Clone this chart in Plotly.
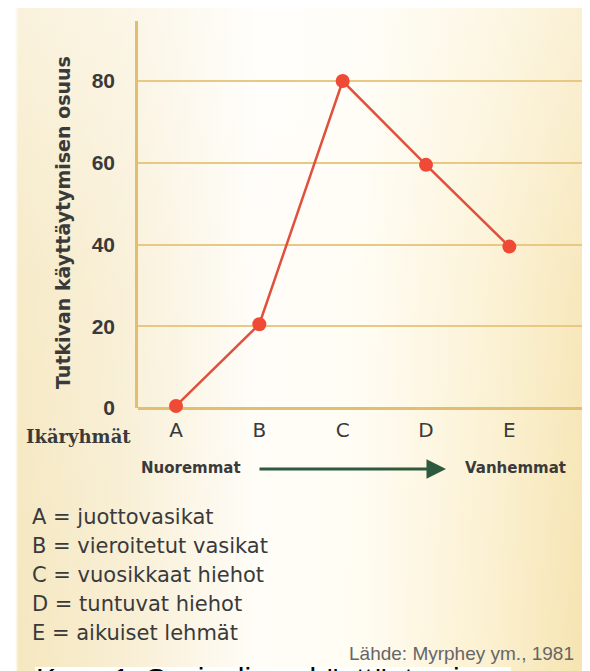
import plotly.graph_objects as go
import urllib.parse

# ---- data ----
categories = ["A", "B", "C", "D", "E"]
values = [0.5, 20.5, 80, 59.5, 39.5]
y_ticks = [0, 20, 40, 60, 80]
x_axis_label = "Ikäryhmät"
y_axis_title = "Tutkivan käyttäytymisen osuus"
younger_label = "Nuoremmat"
older_label = "Vanhemmat"
legend_lines = [
    "A = juottovasikat",
    "B = vieroitetut vasikat",
    "C = vuosikkaat hiehot",
    "D = tuntuvat hiehot",
    "E = aikuiset lehmät",
]
source_text = "Lähde: Myrphey ym., 1981"
caption_text = "Kuva 1. Sosiaalinen käyttäytymi"

# ---- layout geometry (pixels) ----
W, H = 590, 671
L, R, T, B = 130, 2, 13, 271
PW, PH = W - L - R, H - T - B


def px(x):
    return (x - L) / PW


def py(y):
    return (H - B - y) / PH


TEXT = "#3a3a3a"
GRID = "#e8c882"
AXIS = "#e2bf6e"
RED_LINE = "#e0503c"
RED_DOT = "#ef4a35"
COMIC = "DejaVu Sans"

# background gradient as inline SVG
svg = f'''<svg xmlns="http://www.w3.org/2000/svg" width="{W}" height="{H}">
<defs>
<linearGradient id="g" x1="0" y1="0" x2="1" y2="0">
<stop offset="0" stop-color="#ffffff"/>
<stop offset="0.012" stop-color="#ffffff"/>
<stop offset="0.018" stop-color="#f5e7bf"/>
<stop offset="0.2" stop-color="#f8eed3"/>
<stop offset="0.42" stop-color="#fffdf8"/>
<stop offset="0.6" stop-color="#fffcf2"/>
<stop offset="0.82" stop-color="#fbf0cf"/>
<stop offset="1" stop-color="#f5e2ac"/>
</linearGradient>
<linearGradient id="v" x1="0" y1="0" x2="0" y2="1">
<stop offset="0" stop-color="#ffffff" stop-opacity="0.45"/>
<stop offset="0.4" stop-color="#ffffff" stop-opacity="0.15"/>
<stop offset="1" stop-color="#ffffff" stop-opacity="0"/>
</linearGradient>
</defs>
<rect width="{W}" height="{H}" fill="url(#g)"/>
<rect width="{W}" height="{H}" fill="url(#v)"/>
</svg>'''
svg_uri = "data:image/svg+xml;charset=utf-8," + urllib.parse.quote(svg)

fig = go.Figure()
fig.add_trace(go.Scatter(
    x=list(range(len(categories))), y=values,
    mode="lines+markers",
    line=dict(color=RED_LINE, width=2.5),
    marker=dict(color=RED_DOT, size=14),
    cliponaxis=False,
    hoverinfo="skip",
))

annotations = []
# x-axis group label
annotations.append(dict(x=px(70), y=py(428), xref="paper", yref="paper",
                        text=f"<b>{x_axis_label}</b>", showarrow=False,
                        font=dict(family="DejaVu Serif", size=18, color=TEXT),
                        xanchor="center", yanchor="middle"))
# y-axis title
annotations.append(dict(x=px(55), y=py(215), xref="paper", yref="paper",
                        text=f"<b>{y_axis_title}</b>", showarrow=False, textangle=-90,
                        font=dict(family=COMIC, size=19, color=TEXT),
                        xanchor="center", yanchor="middle"))
# younger / older
annotations.append(dict(x=px(183), y=py(460), xref="paper", yref="paper",
                        text=f"<b>{younger_label}</b>", showarrow=False,
                        font=dict(family=COMIC, size=15, color=TEXT),
                        xanchor="center", yanchor="middle"))
annotations.append(dict(x=px(507), y=py(460), xref="paper", yref="paper",
                        text=f"<b>{older_label}</b>", showarrow=False,
                        font=dict(family=COMIC, size=15, color=TEXT),
                        xanchor="center", yanchor="middle"))
# arrow
annotations.append(dict(x=px(438), y=py(461), xref="paper", yref="paper",
                        ax=-(438 - 250), ay=0, axref="pixel", ayref="pixel",
                        text="", showarrow=True, arrowhead=2, arrowsize=1.3,
                        arrowwidth=3, arrowcolor="#2d5a3f"))
# legend lines
for i, line in enumerate(legend_lines):
    annotations.append(dict(x=px(22), y=py(509 + i * 29), xref="paper", yref="paper",
                            text=line, showarrow=False,
                            font=dict(family=COMIC, size=21, color=TEXT),
                            xanchor="left", yanchor="middle"))
# source
annotations.append(dict(x=px(568), y=py(645), xref="paper", yref="paper",
                        text=source_text, showarrow=False,
                        font=dict(family="Liberation Sans", size=19, color="#666666"),
                        xanchor="right", yanchor="middle"))
# caption (cut by the bottom edge, as in the source image)
annotations.append(dict(x=px(26), y=py(652), xref="paper", yref="paper",
                        text=caption_text, showarrow=False,
                        font=dict(family="Liberation Sans", size=30, color="#000000"),
                        xanchor="left", yanchor="top"))

shapes = [
    dict(type="rect", xref="paper", yref="paper",
         x0=px(27), x1=px(503), y0=py(680), y1=py(659),
         fillcolor="#ffffff", line=dict(width=0), layer="below"),
]

fig.update_layout(
    width=W, height=H,
    margin=dict(l=L, r=R, t=T, b=B),
    paper_bgcolor="#f8eed3",
    plot_bgcolor="rgba(0,0,0,0)",
    showlegend=False,
    images=[dict(source=svg_uri, xref="paper", yref="paper",
                 x=-L / PW, y=1 + T / PH, sizex=W / PW, sizey=H / PH,
                 xanchor="left", yanchor="top", sizing="stretch", layer="below")],
    xaxis=dict(
        range=[-0.456, 5.04],
        tickmode="array", tickvals=list(range(len(categories))), ticktext=categories,
        tickfont=dict(family=COMIC, size=20, color=TEXT),
        showgrid=False, zeroline=False,
        showline=False, ticks="", ticklabelstandoff=8,
        fixedrange=True,
    ),
    yaxis=dict(
        range=[0, 94.7],
        tickmode="array", tickvals=y_ticks,
        ticktext=[f"<b>{v}</b>" for v in y_ticks],
        tickfont=dict(family="Liberation Sans", size=21, color=TEXT),
        showgrid=True, gridcolor=GRID, gridwidth=1.6,
        zeroline=True, zerolinecolor=AXIS, zerolinewidth=2.5,
        showline=True, linecolor=AXIS, linewidth=2.5,
        ticks="", ticklabelstandoff=16,
        fixedrange=True,
    ),
    annotations=annotations,
    shapes=shapes,
)

fig.write_html("out.html")
